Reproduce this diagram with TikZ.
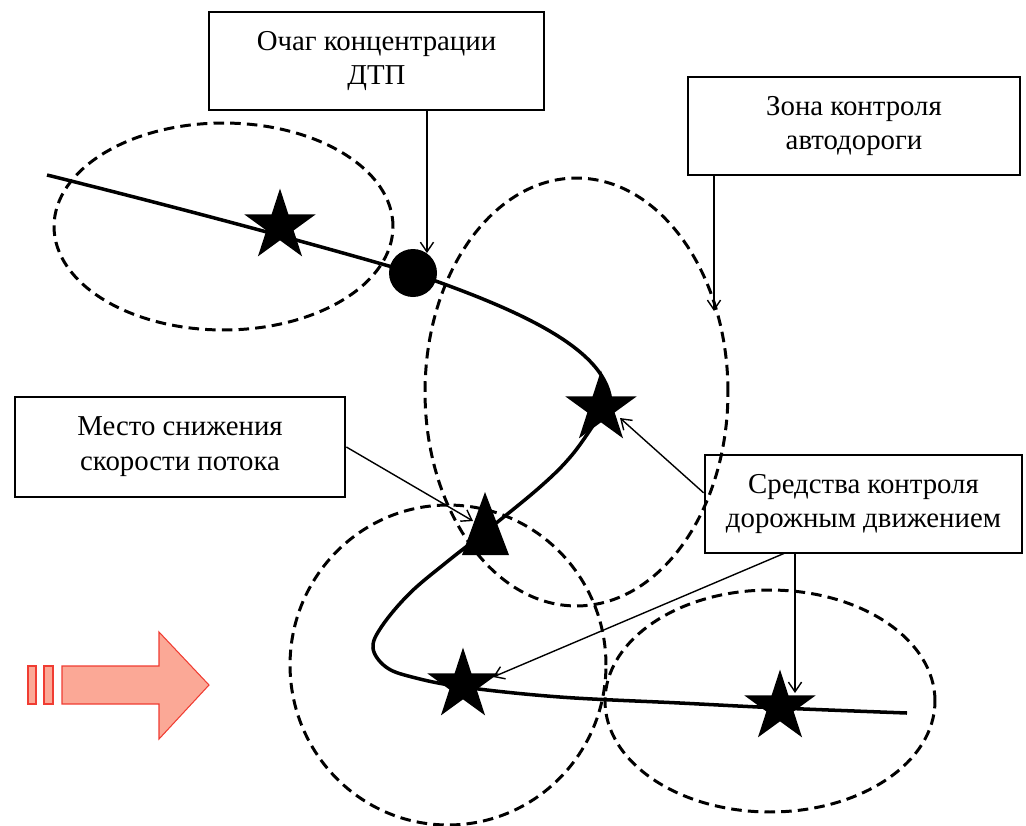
\documentclass[tikz,border=0pt]{standalone}
\usepackage{fontspec}
\setmainfont{Liberation Serif}
\usetikzlibrary{shapes.geometric,arrows.meta}
\definecolor{salmonfill}{RGB}{251,168,150}
\definecolor{arrowedge}{RGB}{240,60,50}
\begin{document}
\begin{tikzpicture}[x=0.02cm,y=-0.02cm,
  box/.style={draw,line width=1.6pt,inner sep=0pt,align=center,font=\fontsize{16.4}{19.8}\selectfont},
  zone/.style={draw,ellipse,dash pattern=on 6pt off 3.5pt,line width=1.7pt,inner sep=0pt},
  road/.style={line width=2pt},
  conn/.style={line width=0.8pt,-{Straight Barb[length=5.5pt,width=7.5pt]}},
  starmark/.style={star,star points=5,star point ratio=2.618,fill=black,inner sep=0pt,minimum size=1.5cm}
]
\useasboundingbox (0,0) rectangle (1026,825);

% zones
\node[zone,minimum width=6.78cm,minimum height=4.14cm] (e1) at (223.5,226.5) {};
\node[zone,minimum width=6.06cm,minimum height=8.56cm] (e2) at (576.5,392) {};
\node[zone,minimum width=6.32cm,minimum height=6.40cm] (e3) at (448,665) {};
\node[zone,minimum width=6.60cm,minimum height=4.44cm] (e4) at (770,701) {};

% road
\draw[road] (47,175) .. controls (160,203) and (300,240) .. (413,273)
  .. controls (520,310) and (610,350) .. (611,405);
\draw[road] plot[smooth,tension=0.6] coordinates {(598,418) (572,455) (540,487) (485,532) (448,561) (410,593) (382,626) (373,648) (386,667) (412,677) (463,687) (560,697) (680,703) (780,708) (907,713)};

% objects
\node[starmark] (s1) at (280,226) {};
\node[starmark] (s2) at (601,408) {};
\node[starmark] (s3) at (463,685) {};
\node[starmark] (s4) at (780,707) {};
\node[circle,fill=black,inner sep=0pt,minimum size=0.96cm] (dot) at (413,273) {};
\fill (485,492) -- (509,555) -- (462,555) -- cycle;

% boxes
\node[box,minimum width=6.70cm,minimum height=1.96cm] (b1) at (376.5,61) {Очаг концентрации\\ДТП};
\node[box,minimum width=6.64cm,minimum height=1.96cm] (b2) at (854,126) {Зона контроля\\автодороги};
\node[box,minimum width=6.60cm,minimum height=2.00cm] (b3) at (180,447) {Место снижения\\скорости потока};
\node[box,minimum width=6.34cm,minimum height=1.96cm] (b4) at (863.5,504) {Средства контроля\\дорожным движением};

% arrow targets
\coordinate (z2) at (714,311);
\coordinate (t3) at (473,521);
\coordinate (t4) at (620,418);
\coordinate (t5) at (493,677);
\coordinate (t6) at (795,693);
\coordinate (o5) at (785,553);

% connectors
\draw[conn] (b1.south -| dot.55) -- (dot.55);
\draw[conn] (b2.south -| z2) -- (z2);
\draw[conn] (b3.east) -- (t3);
\draw[conn] (b4.176) -- (t4);
\draw[conn] (o5) -- (t5);
\draw[conn] (b4.south -| t6) -- (t6);

% flow arrow
\filldraw[fill=salmonfill,draw=arrowedge,line width=0.6pt] (62,666) -- (159,666) -- (159,632) -- (209,685) -- (159,739) -- (159,704) -- (62,704) -- cycle;
\filldraw[fill=salmonfill,draw=arrowedge,line width=0.6pt] (28,666) rectangle (36,704);
\filldraw[fill=salmonfill,draw=arrowedge,line width=0.6pt] (44,666) rectangle (53,704);
\end{tikzpicture}
\end{document}
